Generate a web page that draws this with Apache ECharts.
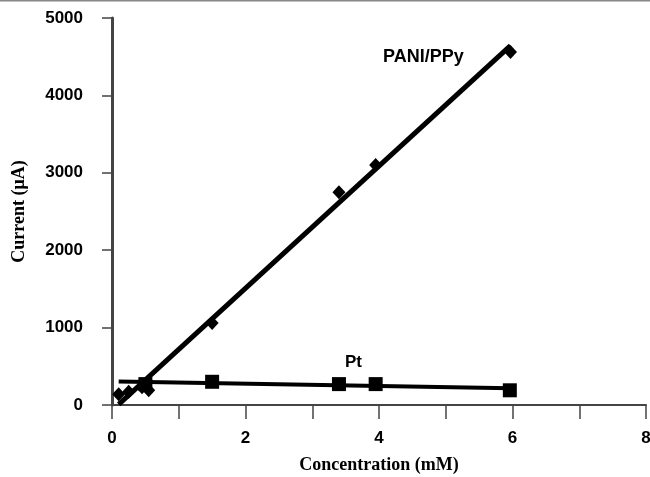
<!DOCTYPE html>
<html>
<head>
<meta charset="utf-8">
<script src="https://cdn.jsdelivr.net/npm/echarts@6/dist/echarts.min.js"></script>
<style>
  html, body { margin: 0; padding: 0; background: #fff; }
  #chart { width: 650px; height: 477px; }
</style>
</head>
<body>
<div id="chart"></div>
<script>
// PANI/PPy electrode (diamonds)
const paniX = [0.1, 0.25, 0.45, 0.55, 1.5, 3.4, 3.95, 5.97];
const paniY = [140, 170, 230, 190, 1060, 2750, 3100, 4560];
// bare Pt electrode (squares)
const ptX = [0.5, 1.5, 3.4, 3.95, 5.96];
const ptY = [270, 300, 270, 270, 190];
const yTicks = [0, 1000, 2000, 3000, 4000, 5000];

// least squares line over the data range
function trend(xs, ys, x0, x1) {
  const n = xs.length;
  const mx = xs.reduce((a, b) => a + b, 0) / n;
  const my = ys.reduce((a, b) => a + b, 0) / n;
  let sxy = 0, sxx = 0;
  xs.forEach((x, i) => { sxy += (x - mx) * (ys[i] - my); sxx += (x - mx) * (x - mx); });
  const k = sxy / sxx, b = my - k * mx;
  return [[x0, k * x0 + b], [x1, k * x1 + b]];
}
const x0 = Math.min(...paniX), x1 = Math.max(...paniX);

const chart = echarts.init(document.getElementById('chart'));
const axisColor = '#444';
const tickFont = { fontFamily: 'Liberation Sans', fontWeight: 'bold', fontSize: 17, color: '#000' };

chart.setOption({
  animation: false,
  grid: { left: 112, right: 4, top: 18, bottom: 72, outerBoundsMode: 'none', containLabel: false },
  xAxis: {
    type: 'value', min: 0, max: 8, interval: 1,
    name: 'Concentration (mM)', nameLocation: 'middle', nameGap: 51,
    nameTextStyle: { fontFamily: 'Liberation Serif', fontWeight: 'bold', fontSize: 18, color: '#000' },
    axisLine: { show: true, lineStyle: { color: axisColor, width: 2 } },
    axisTick: { show: true, length: 14, lineStyle: { color: axisColor, width: 1.5 } },
    axisLabel: Object.assign({ margin: 25, formatter: v => (v % 2 === 0 ? String(v) : '') }, tickFont),
    splitLine: { show: false }
  },
  yAxis: {
    type: 'value', min: yTicks[0], max: yTicks[yTicks.length - 1], interval: yTicks[1] - yTicks[0],
    name: 'Current (μA)', nameLocation: 'middle', nameGap: 84,
    nameTextStyle: { fontFamily: 'Liberation Serif', fontWeight: 'bold', fontSize: 18, color: '#000' },
    axisLine: { show: true, lineStyle: { color: axisColor, width: 3 } },
    axisTick: { show: true, length: 10, lineStyle: { color: axisColor, width: 1.5 } },
    axisLabel: Object.assign({ margin: 29, formatter: v => String(v) }, tickFont),
    splitLine: { show: false }
  },
  graphic: [
    { type: 'line', shape: { x1: 0, y1: 0.5, x2: 650, y2: 0.5 }, style: { stroke: '#888', lineWidth: 2 } },
    { type: 'text', left: 383, top: 48, style: { text: 'PANI/PPy', font: 'bold 18px "Liberation Sans"', fill: '#000' } },
    { type: 'text', left: 345, top: 354, style: { text: 'Pt', font: 'bold 17px "Liberation Sans"', fill: '#000' } }
  ],
  series: [
    {
      name: 'PANI/PPy fit', type: 'line', data: trend(paniX, paniY, x0, x1),
      symbol: 'none', lineStyle: { color: '#000', width: 5 }, z: 2
    },
    {
      name: 'Pt fit', type: 'line', data: trend(ptX, ptY, x0, x1),
      symbol: 'none', lineStyle: { color: '#000', width: 4 }, z: 2
    },
    {
      name: 'PANI/PPy', type: 'scatter', data: paniX.map((x, i) => [x, paniY[i]]),
      symbol: 'diamond', symbolSize: [13, 14], itemStyle: { color: '#000', opacity: 1 }, z: 3
    },
    {
      name: 'Pt', type: 'scatter', data: ptX.map((x, i) => [x, ptY[i]]),
      symbol: 'rect', symbolSize: 14, itemStyle: { color: '#000', opacity: 1 }, z: 3
    }
  ]
});
</script>
</body>
</html>
